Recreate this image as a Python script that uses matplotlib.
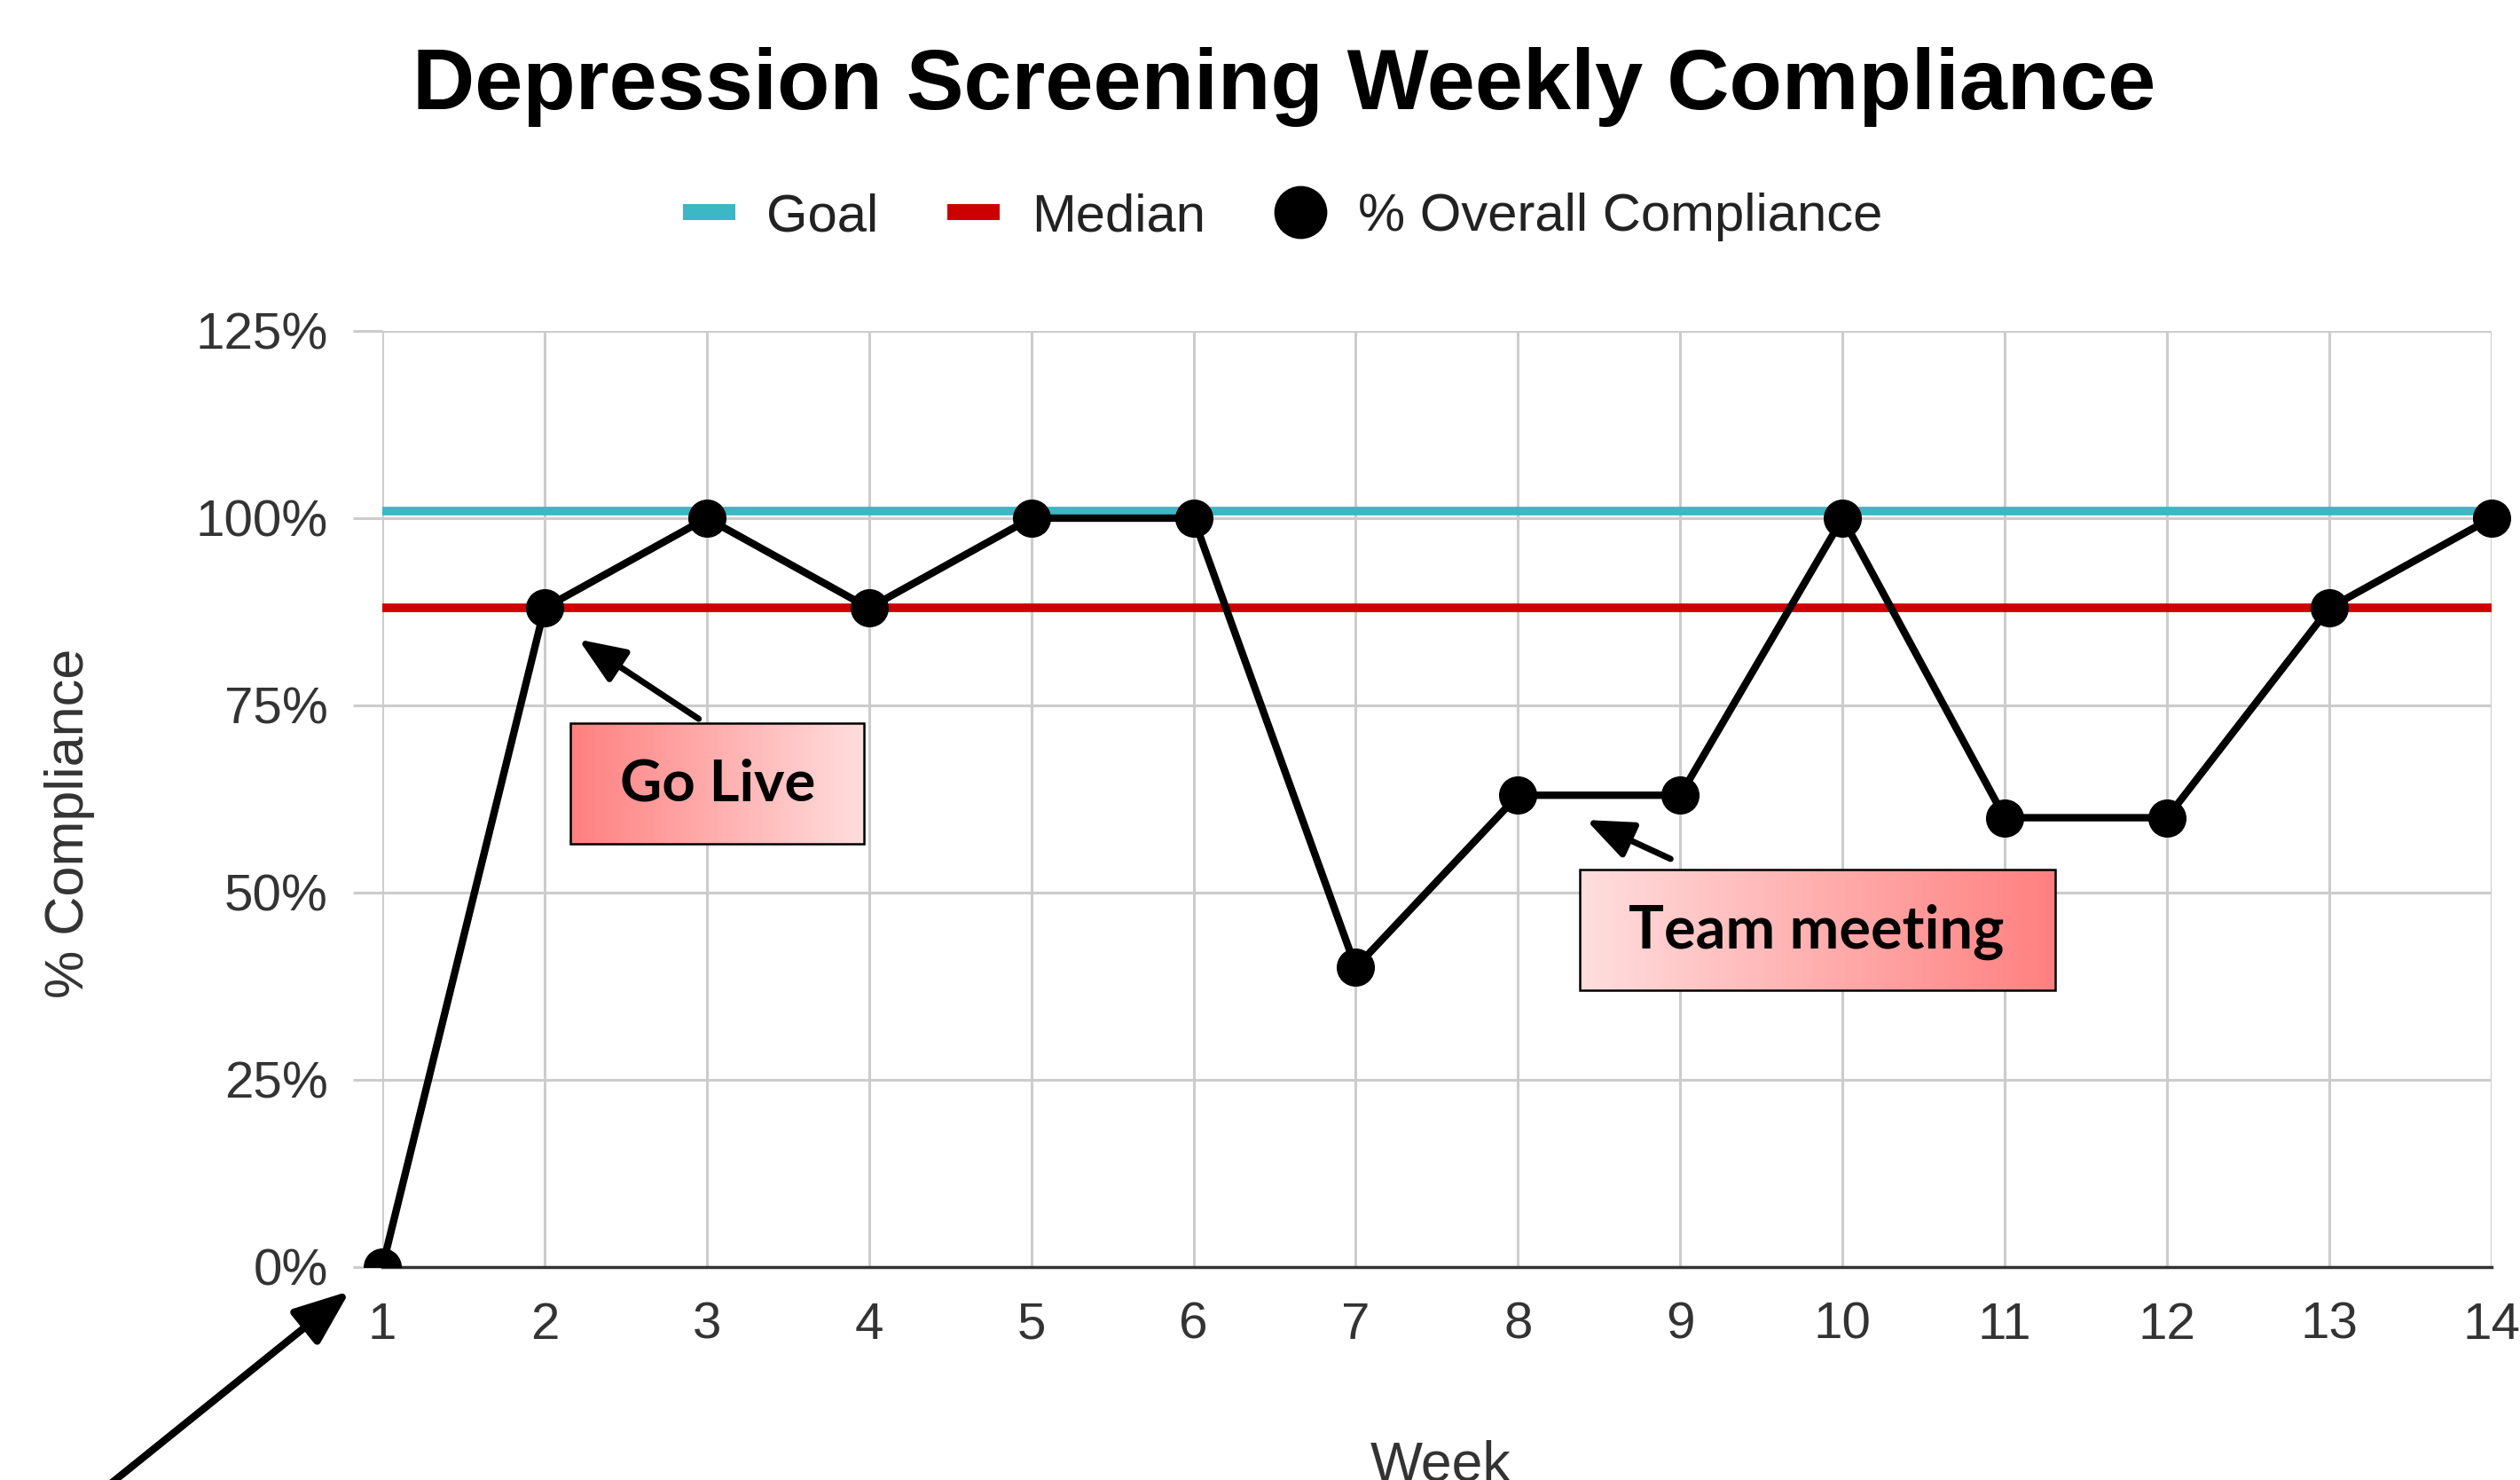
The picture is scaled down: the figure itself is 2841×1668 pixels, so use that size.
import numpy as np
import matplotlib
matplotlib.use("Agg")
import matplotlib.pyplot as plt
from matplotlib.lines import Line2D
from matplotlib.patches import Rectangle
from matplotlib.ticker import FuncFormatter

# data
weeks = list(range(1, 15))
compliance = [0, 88, 100, 88, 100, 100, 40, 63, 63, 100, 60, 60, 88, 100]
goal = 101
median = 88
yticks = [0, 25, 50, 75, 100, 125]

goal_color = "#3bb7c5"
median_color = "#cc0000"
grid_color = "#cccccc"

plt.rcParams["font.family"] = ["Liberation Sans", "DejaVu Sans"]

fig = plt.figure(figsize=(28.41, 16.68), dpi=100)
ax = fig.add_axes([0.1517, 0.1439, 0.8370, 0.6325])

ax.plot(weeks, [goal] * len(weeks), color=goal_color, lw=7, solid_capstyle="butt", zorder=3)
ax.plot(weeks, [median] * len(weeks), color=median_color, lw=7, solid_capstyle="butt", zorder=3)
line, = ax.plot(weeks, compliance, color="black", lw=6, marker="o", markersize=30, zorder=5)
# clip only at the bottom axis, let the last marker spill past the right edge
line.set_clip_path(Rectangle((-0.1, 0), 1.3, 1.3, transform=ax.transAxes))

ax.set_xlim(1, 14)
ax.set_ylim(0, 125)
ax.set_xticks(weeks)
ax.set_yticks(yticks)
ax.yaxis.set_major_formatter(FuncFormatter(lambda v, p: "%d%%" % v))
ax.grid(True, color=grid_color, lw=2.2, zorder=0)
ax.set_axisbelow(True)
for s in ["top", "right", "left"]:
    ax.spines[s].set_visible(False)
ax.spines["bottom"].set_color("#333333")
ax.spines["bottom"].set_linewidth(2.5)
ax.spines["bottom"].set_zorder(4)
ax.tick_params(axis="y", length=24, width=2.2, color=grid_color, pad=20,
               labelsize=42, labelcolor="#333333")
ax.tick_params(axis="x", length=0, pad=28, labelsize=42, labelcolor="#333333")

ax.set_ylabel("% Compliance", fontsize=44, color="#333333")
ax.yaxis.set_label_coords(-0.1362, 0.474)
ax.set_xlabel("Week", fontsize=45, color="#333333")
ax.xaxis.set_label_coords(0.5017, -0.184)
ax.xaxis.label.set_va("top")

fig.text(0.5097, 0.941, "Depression Screening Weekly Compliance", fontsize=70,
         fontweight="bold", ha="center", va="center")

handles = [
    Line2D([], [], color=goal_color, lw=13, solid_capstyle="butt"),
    Line2D([], [], color=median_color, lw=13, solid_capstyle="butt"),
    Line2D([], [], color="black", ls="none", marker="o", markersize=42),
]
leg = fig.legend(handles, ["Goal", "Median", "% Overall Compliance"], loc="center",
                 bbox_to_anchor=(0.509, 0.8533), ncol=3, frameon=False, fontsize=43,
                 handlelength=0.98, handletextpad=0.6, columnspacing=1.3)
for t in leg.get_texts():
    t.set_color("#222222")


def grad_box(x0, x1, y0, y1, left, right, label, tx, ty, size):
    g = np.linspace(0, 1, 256)[None, :, None]
    img = np.array(left)[None, None, :] * (1 - g) + np.array(right)[None, None, :] * g
    ax.imshow(img, extent=[x0, x1, y0, y1], aspect="auto", zorder=6, interpolation="bilinear")
    ax.add_patch(Rectangle((x0, y0), x1 - x0, y1 - y0, fill=False, ec="black", lw=1.8, zorder=7))
    ax.text(tx, ty, label, fontsize=size, fontweight="bold", family="Lato",
            ha="center", va="center", zorder=8)


red = (1.0, 0.5, 0.5)
pale = (1.0, 0.87, 0.87)
grad_box(2.16, 3.97, 56.5, 72.6, red, pale, "Go Live", 3.07, 64.4, 47)
grad_box(8.38, 11.31, 37.0, 53.1, pale, red, "Team meeting", 9.84, 44.8, 48)

arrow = dict(arrowstyle="-|>,head_length=3.2,head_width=1.3", color="black", lw=5,
             shrinkA=0, shrinkB=0)
ax.annotate("", xy=(2.21, 83.8), xytext=(2.95, 73.2), arrowprops=arrow, zorder=6)
ax.annotate("", xy=(8.42, 59.7), xytext=(8.94, 54.5), arrowprops=arrow, zorder=6)
big_arrow = dict(arrowstyle="-|>,head_length=3.8,head_width=1.5", color="black", lw=6,
                 shrinkA=0, shrinkB=0)
ax.annotate("", xy=(0.80, -3.2), xytext=(-0.85, -32), arrowprops=big_arrow,
            annotation_clip=False, zorder=6)

ax.set_xlim(1, 14)
ax.set_ylim(0, 125)

fig.savefig("out.png", dpi=100)
